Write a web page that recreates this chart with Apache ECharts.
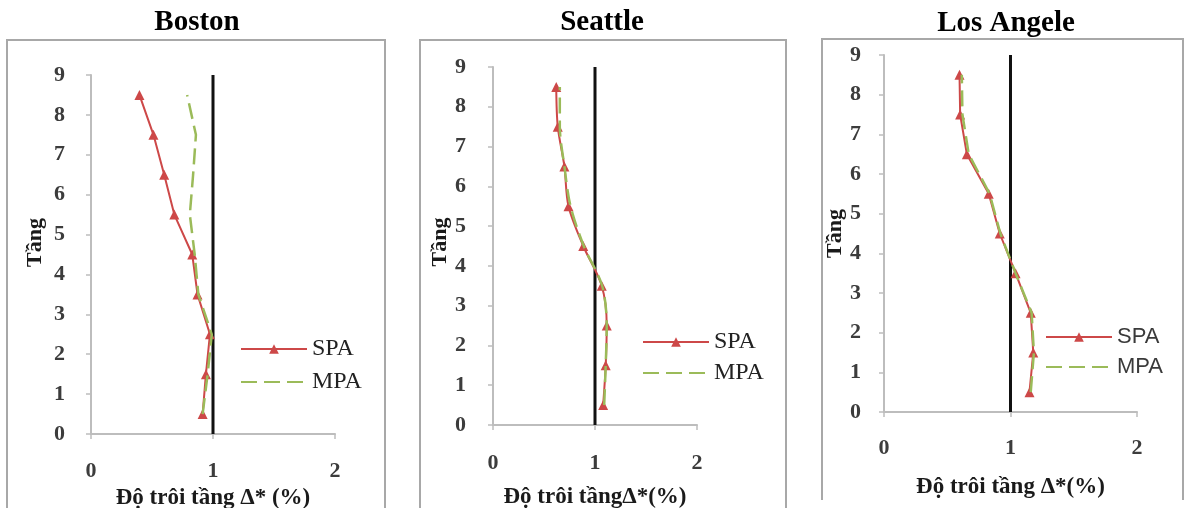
<!DOCTYPE html>
<html>
<head>
<meta charset="utf-8">
<script src="https://cdn.jsdelivr.net/npm/echarts/dist/echarts.min.js"></script>
<style>
  html, body { margin: 0; padding: 0; background: #ffffff; }
  #chart { width: 1185px; height: 508px; }
</style>
</head>
<body>
<div id="chart"></div>
<script>
// Storey mid-heights (floor index) at which drift values are reported
const floors = [0.5, 1.5, 2.5, 3.5, 4.5, 5.5, 6.5, 7.5, 8.5];

// Normalised storey drift Δ* (%) per city, bottom storey first
const bostonSPA  = [0.915, 0.942, 0.975, 0.873, 0.83, 0.683, 0.60, 0.512, 0.397];
const bostonMPA  = [0.915, 0.956, 0.99, 0.88, 0.85, 0.81, 0.837, 0.86, 0.788];
const seattleSPA = [1.08, 1.105, 1.115, 1.066, 0.885, 0.74, 0.70, 0.635, 0.62];
const seattleMPA = [1.09, 1.105, 1.115, 1.07, 0.89, 0.76, 0.70, 0.655, 0.655];
const laSPA      = [1.15, 1.18, 1.16, 1.04, 0.915, 0.828, 0.655, 0.602, 0.597];
const laMPA      = [1.16, 1.185, 1.167, 1.04, 0.92, 0.835, 0.67, 0.62, 0.615];

// Reference line Δ* = 1 spanning the full height
const refX = [1, 1];
const refY = [0, 9];

const cityNames = ['Boston', 'Seattle', 'Los Angele'];
const xTitles = ['Độ trôi tầng Δ* (%)', 'Độ trôi tầngΔ*(%)', 'Độ trôi tầng Δ*(%)'];
const yTitle = 'Tầng';
const xTicks = [0, 1, 2];
const yTicks = [0, 1, 2, 3, 4, 5, 6, 7, 8, 9];

const seriesByCity = [
  [bostonSPA, bostonMPA],
  [seattleSPA, seattleMPA],
  [laSPA, laMPA]
];

// Panel layout
const panels = [
  { grid: { left: 91, top: 75, width: 244, height: 359 }, title: [197, 23],
    frame: [[7, 520], [7, 40], [385, 40], [385, 520]],
    yLabelMargin: 26, xLabelMargin: 26, xNameGap: 53, yNameGap: 45, yNamePad: 24,
    legend: { left: 240, top: 337, itemGap: 9 }, legendFont: 'serif', smooth: false },
  { grid: { left: 493, top: 67, width: 204, height: 358 }, title: [602, 23],
    frame: [[420, 520], [420, 40], [786, 40], [786, 520]],
    yLabelMargin: 27, xLabelMargin: 27, xNameGap: 61, yNameGap: 38, yNamePad: 8,
    legend: { left: 642, top: 330, itemGap: 7 }, legendFont: 'serif', smooth: 0.3 },
  { grid: { left: 884, top: 55, width: 253, height: 357 }, title: [1006, 24],
    frame: [[822, 500], [822, 39], [1183, 39], [1183, 500]],
    yLabelMargin: 23, xLabelMargin: 25, xNameGap: 64, yNameGap: 32, yNamePad: 0,
    legend: { left: 1045, top: 325, itemGap: 6 }, legendFont: 'sans', smooth: false }
];

const SERIF = '"Liberation Serif", "Times New Roman", serif';
const SANS = '"Liberation Sans", "Open Sans", Arial, sans-serif';
const RED = '#cd4848';
const GREEN = '#9bbb59';
const AXIS_GREY = '#bdbdbd';

const pairs = (xs, ys) => xs.map((v, i) => [v, ys[i]]);

const grids = [], xAxes = [], yAxes = [], series = [], legends = [], graphics = [];

panels.forEach((p, i) => {
  grids.push(Object.assign({ containLabel: false, outerBoundsMode: 'none' }, p.grid));

  xAxes.push({
    gridIndex: i, type: 'value', min: xTicks[0], max: xTicks[xTicks.length - 1], interval: 1,
    name: xTitles[i], nameLocation: 'middle', nameGap: p.xNameGap,
    nameTextStyle: { fontFamily: SERIF, fontWeight: 'bold', fontSize: 23, color: '#1a1a1a' },
    axisLine: { show: true, onZero: false, lineStyle: { color: AXIS_GREY, width: 2 } },
    axisTick: { show: true, length: 5, lineStyle: { color: AXIS_GREY, width: 1.5 } },
    axisLabel: { margin: p.xLabelMargin, fontFamily: SERIF, fontWeight: 'bold', fontSize: 22, color: '#3c3c3c' },
    splitLine: { show: false }
  });

  yAxes.push({
    gridIndex: i, type: 'value', min: yTicks[0], max: yTicks[yTicks.length - 1], interval: 1,
    name: yTitle, nameLocation: 'middle', nameGap: p.yNameGap, nameRotate: 90,
    nameTextStyle: { fontFamily: SERIF, fontWeight: 'bold', fontSize: 22, color: '#1a1a1a', padding: [0, 0, 0, p.yNamePad] },
    axisLine: { show: true, onZero: false, lineStyle: { color: AXIS_GREY, width: 2 } },
    axisTick: { show: true, length: 5, lineStyle: { color: AXIS_GREY, width: 1.5 } },
    axisLabel: { margin: p.yLabelMargin, fontFamily: SERIF, fontWeight: 'bold', fontSize: 22, color: '#3c3c3c' },
    splitLine: { show: false }
  });

  // Δ* = 1 reference line
  series.push({
    name: 'ref' + i, type: 'line', xAxisIndex: i, yAxisIndex: i,
    data: pairs(refX, refY), symbol: 'none', silent: true,
    lineStyle: { color: '#111111', width: 3 }, z: 2
  });

  const [spa, mpa] = seriesByCity[i];
  series.push({
    name: 'SPA', type: 'line', xAxisIndex: i, yAxisIndex: i,
    data: pairs(spa, floors), smooth: p.smooth,
    symbol: 'triangle', symbolSize: 10, showAllSymbol: true,
    itemStyle: { color: RED }, lineStyle: { color: RED, width: 2 }, z: 3
  });
  series.push({
    name: 'MPA', type: 'line', xAxisIndex: i, yAxisIndex: i,
    data: pairs(mpa, floors), smooth: p.smooth,
    symbol: 'none',
    itemStyle: { color: GREEN }, lineStyle: { color: GREEN, width: 2.5, type: [16, 7] }, z: 4
  });

  legends.push({
    data: ['SPA', { name: 'MPA', itemStyle: { opacity: 0 } }],
    orient: 'vertical', left: p.legend.left, top: p.legend.top,
    itemGap: p.legend.itemGap, itemWidth: 66, itemHeight: 12, padding: 0,
    selectedMode: false,
    textStyle: {
      fontFamily: p.legendFont === 'serif' ? SERIF : SANS,
      fontSize: p.legendFont === 'serif' ? 24 : 22,
      lineHeight: 24,
      color: p.legendFont === 'serif' ? '#222222' : '#3a3a3a'
    }
  });

  graphics.push({
    type: 'polyline', silent: true, z: 0,
    shape: { points: p.frame },
    style: { stroke: '#a8a8a8', lineWidth: 2, fill: null }
  });
  graphics.push({
    type: 'text', silent: true, x: p.title[0], y: p.title[1],
    style: {
      text: cityNames[i], x: 0, y: 0, align: 'center', verticalAlign: 'middle',
      font: 'bold 29px ' + SERIF, fill: '#000000'
    }
  });
});

const chart = echarts.init(document.getElementById('chart'), null, { renderer: 'canvas' });
chart.setOption({
  animation: false,
  backgroundColor: '#ffffff',
  grid: grids,
  xAxis: xAxes,
  yAxis: yAxes,
  legend: legends,
  series: series,
  graphic: graphics
});
</script>
</body>
</html>
